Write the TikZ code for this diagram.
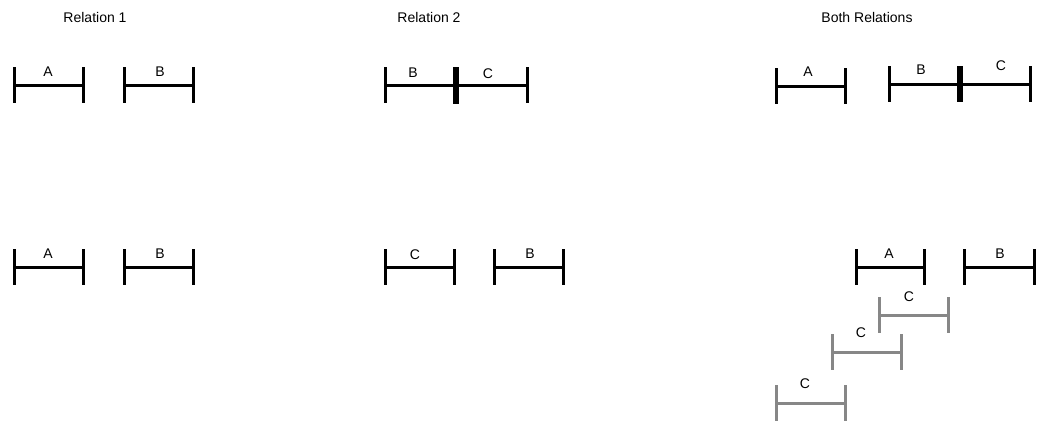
\documentclass[tikz,border=0pt]{standalone}
\usepackage{fontspec}
\setmainfont{Liberation Sans}
\tikzset{
  bar/.style={line width=3pt, line cap=butt},
  thickbar/.style={line width=6pt, line cap=butt},
  lbl/.style={inner sep=0pt, font=\fontsize{14}{16}\selectfont},
  ttl/.style={inner sep=0pt, font=\fontsize{14}{16}\selectfont},
  graycol/.style={color=black!47}
}
% [colour]{left}{right}{line y}{label x}{label y}{text}
\newcommand\drawivl[7][black]{%
  \draw[bar,#1] (#2,#4-18) -- (#2,#4+18);
  \draw[bar,#1] (#3,#4-18) -- (#3,#4+18);
  \draw[bar,#1] (#2,#4) -- (#3,#4);
  \node[lbl] at (#5,#6) {#7};
}
\begin{document}
\begin{tikzpicture}[x=1pt,y=-1pt]
\useasboundingbox (0,0) rectangle (1037,423);
% titles
\node[ttl] (t1) at (95,17) {Relation 1};
\node[ttl] (t2) at (429,17) {Relation 2};
\node[ttl] (t3) at (867,17) {Both Relations};
% Relation 1, row 1
\drawivl{14.5}{83.5}{85}{48}{72}{A}
\drawivl{124}{193}{85}{160}{72}{B}
% Relation 2, row 1
\drawivl{385}{456}{85}{413}{73}{B}
\drawivl{456}{527}{85}{488}{74}{C}
\draw[thickbar] (456,67) -- (456,104);
% Both, row 1
\drawivl{776}{845}{86}{808}{72}{A}
\drawivl{889}{960}{84}{921}{70}{B}
\drawivl{960}{1030}{84}{1001}{66}{C}
\draw[thickbar] (960,66) -- (960,102);
% Row 2
\drawivl{14.5}{83.5}{267}{48}{254}{A}
\drawivl{124}{193}{267}{160}{254}{B}
\drawivl{385}{454}{267}{415}{255}{C}
\drawivl{494}{563}{267}{530}{254}{B}
\drawivl{856}{924}{267}{889}{254}{A}
\drawivl{964}{1034}{267}{1000}{254}{B}
\drawivl[graycol]{879}{948}{315}{909}{297}{C}
\drawivl[graycol]{832}{901}{352}{861}{333}{C}
\drawivl[graycol]{776}{845}{403}{805}{384}{C}
\end{tikzpicture}
\end{document}
